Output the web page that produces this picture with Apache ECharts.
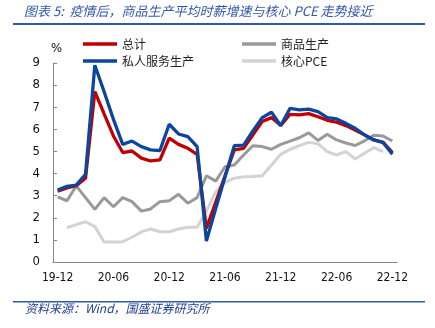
<!DOCTYPE html>
<html><head><meta charset="utf-8">
<script src="https://cdn.jsdelivr.net/npm/echarts@6/dist/echarts.min.js"></script>
<style>html,body{margin:0;padding:0;background:#fff}#c{width:435px;height:328px}</style>
</head><body><div id="c"></div>
<script>
const categories = ['19-12','20-01','20-02','20-03','20-04','20-05','20-06','20-07','20-08','20-09','20-10','20-11',
  '20-12','21-01','21-02','21-03','21-04','21-05','21-06','21-07','21-08','21-09','21-10','21-11',
  '21-12','22-01','22-02','22-03','22-04','22-05','22-06','22-07','22-08','22-09','22-10','22-11','22-12'];
const total = [3.2,3.35,3.45,3.79,7.71,6.7,5.7,4.95,5.02,4.7,4.57,4.62,
  5.6,5.32,5.14,4.87,1.52,2.7,3.9,5.07,5.14,5.75,6.35,6.53,
  6.17,6.68,6.65,6.71,6.57,6.41,6.32,6.17,5.97,5.75,5.52,5.41,4.96];
const goods = [2.95,2.77,3.44,2.91,2.38,2.91,2.5,2.91,2.73,2.3,2.4,2.73,
  2.77,3.06,2.66,2.91,3.9,3.66,4.31,4.39,4.84,5.26,5.22,5.1,
  5.32,5.47,5.62,5.84,5.5,5.78,5.52,5.38,5.27,5.48,5.73,5.7,5.47];
const services = [3.25,3.42,3.48,3.97,8.9,7.7,6.45,5.32,5.47,5.22,5.07,5.04,
  6.23,5.79,5.67,5.22,0.95,2.42,3.84,5.26,5.29,5.93,6.53,6.77,
  6.17,6.95,6.88,6.91,6.8,6.53,6.47,6.27,6.05,5.75,5.52,5.41,4.87];
const corePCE = [null,1.55,1.69,1.82,1.6,0.9,0.9,0.92,1.12,1.36,1.49,1.37,
  1.37,1.49,1.57,1.57,2.3,3.18,3.6,3.79,3.85,3.87,3.9,4.39,
  4.87,5.1,5.26,5.41,5.35,4.99,4.84,4.99,4.66,4.92,5.17,4.99,null];
const yMin = 0, yMax = 9, yStep = 1;

const chart = echarts.init(document.getElementById('c'), null, {renderer:'canvas'});
const cjk = '"Noto Sans CJK SC", "DejaVu Sans", sans-serif';
const num = '"DejaVu Sans Condensed", "DejaVu Sans", sans-serif';
const legendBase = {orient:'vertical', top:33, itemWidth:34, itemHeight:3.5, itemGap:5, icon:'rect',
  textStyle:{fontFamily:cjk, fontSize:12, color:'#222', lineHeight:12}};
function line(name, data, color, width, z){
  return {name, type:'line', data, symbol:'none', smooth:false, connectNulls:false, z,
    lineStyle:{color, width}, itemStyle:{color}, emphasis:{disabled:true}};
}
chart.setOption({
  animation:false,
  grid:{left:53, right:38, top:63, bottom:66},
  legend:[
    Object.assign({}, legendBase, {left:78, data:['总计','私人服务生产']}),
    Object.assign({}, legendBase, {left:237, data:['商品生产','核心PCE']})
  ],
  xAxis:{type:'category', data:categories, boundaryGap:true,
    axisLine:{lineStyle:{color:'#888', width:1}},
    axisTick:{inside:true, length:4, interval:5, lineStyle:{color:'#888'}},
    axisLabel:{interval:5, margin:10, fontFamily:num, fontSize:12, color:'#111'}},
  yAxis:{type:'value', min:yMin, max:yMax, interval:yStep,
    axisLine:{show:true, lineStyle:{color:'#888', width:1}},
    axisTick:{show:true, inside:true, length:4, lineStyle:{color:'#888'}},
    splitLine:{show:false},
    axisLabel:{margin:13, fontFamily:num, fontSize:13, color:'#111'}},
  series:[
    line('核心PCE', corePCE, '#D3D3D3', 3, 1),
    line('商品生产', goods, '#999999', 3, 2),
    line('总计', total, '#C00000', 3.3, 3),
    line('私人服务生产', services, '#0A46A0', 3.3, 4)
  ],
  graphic:[
    {type:'text', left:24, top:5, style:{text:'图表 5:  疫情后，商品生产平均时薪增速与核心 PCE 走势接近',
      fontFamily:cjk, fontSize:13, fontStyle:'italic', fill:'#3358A8'}},
    {type:'rect', shape:{x:13, y:23, width:412, height:2}, style:{fill:'#2E5AA8'}},
    {type:'text', left:51, top:42, style:{text:'%', fontFamily:num, fontSize:13, fill:'#111'}},
    {type:'rect', shape:{x:13, y:301, width:412, height:1.5}, style:{fill:'#2E5AA8'}},
    {type:'text', left:25, top:302, style:{text:'资料来源：Wind，国盛证券研究所',
      fontFamily:cjk, fontSize:12, fontStyle:'italic', fill:'#1F3F8F'}}
  ]
});
</script></body></html>
